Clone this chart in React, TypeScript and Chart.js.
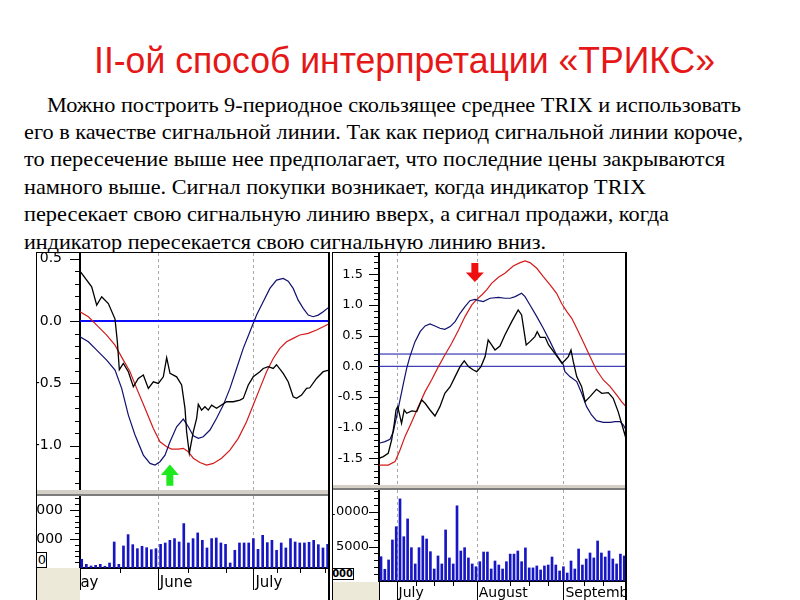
import React, { useEffect, useLayoutEffect, useRef, useState } from 'react';
import { Chart, registerables } from 'chart.js';

Chart.register(...registerables);

// ---------------- text ----------------
const titleText = 'II-ой способ интерпретации «ТРИКС»';
const paragraphLines = [
  'Можно построить 9-периодное скользящее среднее TRIX и использовать',
  'его в качестве сигнальной линии. Так как период сигнальной линии короче,',
  'то пересечение выше нее предполагает, что последние цены закрываются',
  'намного выше. Сигнал покупки возникает, когда индикатор TRIX',
  'пересекает свою сигнальную линию вверх, а сигнал продажи, когда',
  'индикатор пересекается свою сигнальную линию вниз.',
];

// ---------------- left chart data (x = trading day index) ----------------
const leftPrice: [number, number][] = [
  [-0.37, 0.4], [2.15, 0.275], [3.23, 0.128], [4.31, 0.195], [5.74, 0.14], [7.18, 0.016], [7.68, -0.166],
  [8.11, -0.39], [8.97, -0.34], [10.05, -0.406], [11.13, -0.527], [12.2, -0.46], [13.28, -0.433],
  [14.36, -0.54], [15.44, -0.487], [16.51, -0.5], [17.59, -0.447], [18.31, -0.294], [19.03, -0.42],
  [20.46, -0.447], [21.54, -0.513], [22.26, -0.7], [22.61, -0.888], [23.19, -1.06], [24.05, -0.888],
  [24.77, -0.78], [25.13, -0.668], [25.84, -0.714], [26.56, -0.687], [27.28, -0.714], [28.0, -0.674],
  [29.07, -0.7], [31.23, -0.647], [32.66, -0.647], [34.1, -0.634], [34.82, -0.62], [35.9, -0.513],
  [36.97, -0.447], [38.4, -0.406], [39.12, -0.38], [40.2, -0.366], [41.28, -0.38], [41.99, -0.35],
  [43.43, -0.42], [44.5, -0.487], [45.58, -0.607], [46.3, -0.62], [47.38, -0.594], [48.46, -0.54],
  [49.17, -0.535], [50.61, -0.46], [52.05, -0.406], [53.3, -0.393],
];
const leftTrix: [number, number][] = [
  [-0.37, -0.126], [1.44, -0.166], [3.23, -0.233], [5.38, -0.313], [7.18, -0.393], [8.61, -0.54],
  [10.05, -0.754], [11.49, -0.914], [13.28, -1.075], [14.72, -1.142], [15.79, -1.155], [16.87, -1.128],
  [17.95, -1.075], [19.03, -0.968], [20.46, -0.848], [21.9, -0.786], [22.97, -0.848], [24.05, -0.92],
  [25.13, -0.941], [26.2, -0.928], [27.64, -0.874], [29.07, -0.78], [30.51, -0.674], [31.95, -0.54],
  [33.38, -0.38], [34.82, -0.219], [36.25, -0.086], [37.69, 0.048], [39.12, 0.155], [40.56, 0.262],
  [41.99, 0.329], [43.43, 0.342], [44.5, 0.32], [45.58, 0.262], [46.66, 0.168], [47.74, 0.102],
  [48.82, 0.048], [49.89, 0.035], [50.97, 0.048], [52.05, 0.075], [53.3, 0.112],
];
const leftSignal: [number, number][] = [
  [-0.37, 0.075], [1.44, 0.035], [3.23, -0.032], [5.38, -0.112], [7.18, -0.193], [8.97, -0.313],
  [10.41, -0.406], [11.84, -0.54], [13.64, -0.7], [15.44, -0.861], [16.87, -0.968], [18.31, -1.008],
  [19.38, -1.027], [20.82, -1.027], [21.9, -1.021], [22.97, -1.048], [24.05, -1.1], [25.48, -1.134],
  [26.92, -1.155], [28.36, -1.142], [30.15, -1.1], [31.95, -1.035], [33.74, -0.941], [35.53, -0.807],
  [36.97, -0.674], [38.4, -0.54], [39.84, -0.406], [41.28, -0.3], [42.71, -0.219], [44.15, -0.166],
  [45.58, -0.139], [47.02, -0.112], [48.82, -0.099], [50.61, -0.072], [52.05, -0.045], [53.3, -0.022],
];
const leftZeroLevels = [0.0];
const leftVolume = [
  1500, 630, 350, 460, 630, 300, 860, 4480, 630, 3800, 5750, 4020, 3330, 3740, 3500, 3160, 3330, 4080,
  4310, 4770, 5060, 4480, 7650, 4310, 5060, 6040, 4770, 3450, 5060, 5170, 4310, 4080, 860, 3050, 4310,
  4310, 4310, 5060, 3220, 5630, 4370, 4770, 3050, 4310, 3450, 5060, 4480, 4310, 4310, 4430, 4770, 4020,
  3450, 4080,
];
const leftLineTicks = [-1.0, -0.5, 0.0, 0.5];
const leftVolumeTicks = [5000, 10000];
const leftMonthPos = [-3.5, 16.4, 37.0];
const leftMonthLabels = ['May', 'June', 'July'];
const leftWeekPos = [8.3, 23.0, 31.0, 42.0, 47.0, 52.4];
const leftBuyArrow = { x: 19.0, tip: -1.15, tail: -1.32 };

// ---------------- right chart data ----------------
const rightPrice: [number, number][] = [
  [-0.53, -1.5], [0.6, -1.473], [1.9, -1.418], [2.8, -1.2], [3.5, -0.93], [3.95, -0.71], [4.4, -0.658],
  [5.0, -0.82], [5.4, -0.93], [6.1, -0.71], [6.75, -0.766], [8.1, -0.728], [9.4, -0.739], [10.7, -0.549],
  [11.6, -0.603], [12.9, -0.712], [14.2, -0.81], [15.5, -0.658], [16.8, -0.44], [18.2, -0.332],
  [19.5, -0.168], [20.8, -0.005], [21.9, 0.087], [23.0, -0.005], [24.3, -0.06], [25.2, -0.087],
  [26.3, -0.005], [27.4, 0.158], [28.2, 0.43], [29.1, 0.348], [30.0, 0.266], [31.3, 0.33], [32.6, 0.51],
  [34.4, 0.728], [36.1, 0.918], [37.0, 0.837], [38.2, 0.348], [39.2, 0.402], [40.5, 0.484], [41.1, 0.565],
  [41.9, 0.473], [43.2, 0.473], [44.1, 0.348], [45.4, 0.239], [46.7, 0.13], [47.6, 0.049], [48.5, 0.103],
  [49.3, 0.158], [50.0, 0.266], [50.6, 0.076], [51.5, -0.168], [52.8, -0.332], [53.7, -0.576],
  [55.0, -0.495], [56.7, -0.375], [58.1, -0.44], [59.8, -0.429], [61.1, -0.522], [62.4, -0.739],
  [63.3, -0.929], [64.2, -1.12], [64.47, -1.04],
];
const rightTrix: [number, number][] = [
  [-0.53, -1.255], [1.05, -1.228], [2.37, -1.19], [3.25, -1.065], [4.1, -0.82], [5.0, -0.549],
  [5.9, -0.277], [6.75, -0.033], [7.6, 0.158], [8.95, 0.402], [10.3, 0.565], [11.6, 0.658], [12.9, 0.69],
  [14.2, 0.658], [15.5, 0.62], [16.8, 0.603], [18.2, 0.647], [19.5, 0.728], [20.8, 0.864], [22.1, 0.973],
  [23.4, 1.07], [24.7, 1.092], [25.8, 1.07], [26.9, 1.054], [28.7, 1.109], [30.9, 1.125], [32.6, 1.109],
  [34.0, 1.109], [35.3, 1.136], [37.0, 1.19], [37.9, 1.136], [39.2, 1.0], [41.0, 0.81], [42.7, 0.62],
  [44.5, 0.402], [46.2, 0.185], [48.0, 0.022], [48.4, -0.087], [49.7, -0.168], [51.5, -0.25],
  [52.8, -0.44], [54.1, -0.658], [55.4, -0.793], [56.7, -0.886], [58.5, -0.913], [60.3, -0.913],
  [61.6, -0.902], [62.9, -0.902], [63.8, -0.957], [64.47, -1.04],
];
const rightSignal: [number, number][] = [
  [-0.53, -1.61], [1.9, -1.61], [3.7, -1.554], [5.0, -1.364], [6.3, -1.147], [8.1, -0.902], [9.8, -0.658],
  [11.6, -0.413], [13.3, -0.223], [15.1, -0.005], [16.8, 0.185], [18.6, 0.375], [20.4, 0.592], [22.1, 0.81],
  [23.9, 1.0], [25.2, 1.092], [26.5, 1.163], [27.8, 1.245], [29.1, 1.353], [30.9, 1.451], [32.6, 1.516],
  [34.8, 1.636], [36.6, 1.69], [37.9, 1.717], [39.2, 1.69], [41.0, 1.598], [42.7, 1.462], [44.5, 1.326],
  [46.2, 1.19], [47.5, 1.027], [48.9, 0.891], [50.2, 0.783], [51.5, 0.62], [53.2, 0.402], [55.0, 0.158],
  [56.7, -0.06], [58.5, -0.223], [60.3, -0.332], [62.0, -0.467], [63.3, -0.576], [64.47, -0.658],
];
const rightLevels = [0.0, 0.2];
const rightVolume = [
  3520, 1700, 3050, 5950, 7870, 11900, 6420, 9000, 4830, 2470, 4830, 6530, 6090, 4250, 1740, 3630, 2470,
  7400, 3340, 2470, 10900, 4350, 4830, 3340, 2470, 2070, 2800, 4200, 4200, 1740, 2900, 2320,
  1740, 2800, 3900, 3900, 4350, 2800, 4800, 1900, 1900, 2180, 1600, 2180, 2320, 3480, 2320, 1450, 2070,
  1160, 2900, 1740, 4640, 2320, 3190, 4060, 3340, 5800, 4060, 3480, 4350, 3190, 2470, 3900, 3630,
];
const rightLineTicks = [-1.5, -1.0, -0.5, 0.0, 0.5, 1.0, 1.5];
const rightVolumeTicks = [5000, 10000];
const rightMonthPos = [4.1, 25.2, 48.0];
const rightMonthLabels = ['July', 'August', 'September'];
const rightWeekPos = [9.2, 14.0, 19.0, 33.9, 38.9, 44.0, 53.4, 58.5, 64.2];
const rightSellArrow = { x: 24.7, tip: 1.375, tail: 1.685 };

// ---------------- colours ----------------
const PRICE_COLOR = '#000000';
const TRIX_COLOR = '#10106e';
const SIGNAL_COLOR = '#d41a1a';
const BAR_COLOR = '#1616c4';
const GRID_COLOR = '#a8a8a8';
const FONT = 'DejaVu Sans';

function range(from: number, to: number, step: number): number[] {
  const out: number[] = [];
  for (let v = from; v <= to + 1e-9; v += step) out.push(Math.round(v * 1000) / 1000);
  return out;
}

const decor = {
  id: 'decor',
  beforeDatasetsDraw(chart: any, _a: any, o: any) {
    const { ctx, chartArea: a } = chart;
    const xs = chart.scales.x;
    ctx.save();
    ctx.strokeStyle = GRID_COLOR;
    ctx.lineWidth = 1;
    ctx.setLineDash([3, 3]);
    for (const v of o.vlines || []) {
      const px = Math.round(xs.getPixelForValue(v)) + 0.5;
      ctx.beginPath();
      ctx.moveTo(px, a.top);
      ctx.lineTo(px, a.bottom);
      ctx.stroke();
    }
    ctx.restore();
  },
  afterDraw(chart: any, _a: any, o: any) {
    const { ctx, chartArea: a } = chart;
    const xs = chart.scales.x;
    const ys = chart.scales.y;
    ctx.save();
    ctx.strokeStyle = '#000';
    ctx.lineWidth = 1;
    const hTick = (v: number, len: number) => {
      if (v < ys.min || v > ys.max) return;
      const py = Math.round(ys.getPixelForValue(v)) + 0.5;
      ctx.beginPath();
      ctx.moveTo(a.left - len, py);
      ctx.lineTo(a.left, py);
      ctx.stroke();
    };
    (o.yMinor || []).forEach((v: number) => hTick(v, 5));
    (o.yMajor || []).forEach((v: number) => hTick(v, 10));
    const vTick = (v: number, len: number) => {
      if (v < xs.min || v > xs.max) return;
      const px = Math.round(xs.getPixelForValue(v)) + 0.5;
      ctx.beginPath();
      ctx.moveTo(px, a.bottom);
      ctx.lineTo(px, a.bottom + len);
      ctx.stroke();
    };
    (o.xMinor || []).forEach((v: number) => vTick(v, 5));
    (o.xMajor || []).forEach((v: number) => vTick(v, o.xMajorLen || 20));
    if (o.edgeLen) {
      ctx.lineWidth = 2;
      ctx.beginPath();
      ctx.moveTo(a.left, a.bottom);
      ctx.lineTo(a.left, a.bottom + o.edgeLen);
      ctx.stroke();
    }
    if (o.arrow) {
      const { x, tip, tail, color } = o.arrow;
      const px = xs.getPixelForValue(x);
      const pt = ys.getPixelForValue(tip);
      const pb = ys.getPixelForValue(tail);
      const dir = Math.sign(pb - pt);
      const headLen = Math.abs(pb - pt) * 0.5;
      const hw = 9;
      const sw = 3.5;
      ctx.fillStyle = color;
      ctx.beginPath();
      ctx.moveTo(px, pt);
      ctx.lineTo(px + hw, pt + dir * headLen);
      ctx.lineTo(px + sw, pt + dir * headLen);
      ctx.lineTo(px + sw, pb);
      ctx.lineTo(px - sw, pb);
      ctx.lineTo(px - sw, pt + dir * headLen);
      ctx.lineTo(px - hw, pt + dir * headLen);
      ctx.closePath();
      ctx.fill();
    }
    ctx.restore();
  },
};

const pts = (arr: [number, number][]) => arr.map(([x, y]) => ({ x, y }));

function lineConfig(p: any): any {
  const levelSets = p.levels.map((lv: number) => ({
    data: [{ x: p.xMin, y: lv }, { x: p.xMax, y: lv }],
    borderColor: p.levelColor,
    borderWidth: p.levelWidth,
    pointRadius: 0,
  }));
  return {
    type: 'line',
    data: {
      datasets: [
        { data: pts(p.price), borderColor: PRICE_COLOR, borderWidth: 1.3, pointRadius: 0 },
        { data: pts(p.trix), borderColor: TRIX_COLOR, borderWidth: 1.2, pointRadius: 0 },
        { data: pts(p.signal), borderColor: SIGNAL_COLOR, borderWidth: 1.2, pointRadius: 0 },
        ...levelSets,
      ],
    },
    options: {
      responsive: false,
      animation: false,
      events: [],
      layout: { padding: 0 },
      elements: { line: { tension: 0, fill: false } },
      plugins: {
        legend: { display: false },
        tooltip: { enabled: false },
        decor: {
          vlines: p.vlines,
          yMajor: p.yTicks,
          yMinor: p.yMinor,
          arrow: p.arrow,
        },
      },
      scales: {
        x: { type: 'linear', display: false, min: p.xMin, max: p.xMax, offset: false },
        y: {
          type: 'linear',
          min: p.yMin,
          max: p.yMax,
          afterBuildTicks: (s: any) => {
            s.ticks = p.yTicks.map((v: number) => ({ value: v }));
          },
          afterFit: (s: any) => {
            s.width = p.axisWidth;
            s.paddingTop = 0;
            s.paddingBottom = 0;
          },
          grid: { display: false, drawTicks: false },
          border: { display: true, color: '#000', width: 2 },
          ticks: {
            padding: p.labelPad,
            color: '#000',
            font: { family: FONT, size: p.fontSize },
            callback: (v: number) => Number(v).toFixed(1),
          },
        },
      },
    },
    plugins: [decor],
  };
}

function barConfig(p: any): any {
  return {
    type: 'bar',
    data: {
      datasets: [
        {
          data: p.volume.map((v: number, i: number) => ({ x: i, y: v })),
          backgroundColor: BAR_COLOR,
          barThickness: 2,
        },
      ],
    },
    options: {
      responsive: false,
      animation: false,
      events: [],
      layout: { padding: 0 },
      plugins: {
        legend: { display: false },
        tooltip: { enabled: false },
        decor: {
          vlines: p.vlines,
          yMajor: p.yTicks,
          yMinor: p.yMinor,
          xMajor: p.monthPos,
          xMajorLen: p.monthLen,
          xMinor: p.weekPos,
          edgeLen: p.monthLen,
        },
      },
      scales: {
        x: {
          type: 'linear',
          min: p.xMin,
          max: p.xMax,
          offset: false,
          afterBuildTicks: (s: any) => {
            s.ticks = p.monthPos.map((v: number) => ({ value: v }));
          },
          afterFit: (s: any) => {
            s.height = p.axisHeight;
            s.paddingLeft = 0;
            s.paddingRight = 0;
          },
          grid: { display: false, drawTicks: false },
          border: { display: true, color: '#000', width: 2 },
          ticks: {
            autoSkip: false,
            maxRotation: 0,
            minRotation: 0,
            align: 'start',
            labelOffset: 2,
            padding: p.xLabelPad,
            color: '#000',
            font: { family: FONT, size: p.xFontSize },
            callback: (_v: number, i: number) => p.monthLabels[i],
          },
        },
        y: {
          type: 'linear',
          min: 0,
          max: p.yMax,
          afterBuildTicks: (s: any) => {
            s.ticks = p.yTicks.map((v: number) => ({ value: v }));
          },
          afterFit: (s: any) => {
            s.width = p.axisWidth;
            s.paddingTop = 0;
            s.paddingBottom = 0;
          },
          grid: { display: false, drawTicks: false },
          border: { display: true, color: '#000', width: 2 },
          ticks: {
            padding: p.labelPad,
            color: '#000',
            font: { family: FONT, size: p.fontSize },
            callback: (v: number) => String(v),
          },
        },
      },
    },
    plugins: [decor],
  };
}

function ChartCanvas({ make, left, top, width, height }: any) {
  const ref = useRef<HTMLCanvasElement>(null);
  useEffect(() => {
    const chart = new Chart(ref.current as HTMLCanvasElement, make());
    return () => chart.destroy();
  }, []);
  return (
    <canvas
      ref={ref}
      width={width}
      height={height}
      style={{ position: 'absolute', left, top, width, height, display: 'block' }}
    />
  );
}

function FitLine({ text, left, right, baseline, family, size, color, ascent }: any) {
  const ref = useRef<HTMLDivElement>(null);
  const [sx, setSx] = useState(1);
  useLayoutEffect(() => {
    const el = ref.current;
    if (!el) return;
    const w = el.getBoundingClientRect().width;
    if (w > 0) setSx((right - left) / w);
  }, []);
  return (
    <div
      ref={ref}
      style={{
        position: 'absolute',
        left,
        top: baseline - size * ascent,
        whiteSpace: 'nowrap',
        fontFamily: family,
        fontSize: size,
        lineHeight: `${size}px`,
        color,
        transform: `scaleX(${sx})`,
        transformOrigin: 'left top',
      }}
    >
      {text}
    </div>
  );
}

const lineLeft = [47, 24, 24, 24, 24, 24];
const lineRight = [741, 743, 725, 646, 669, 546];
const lineBaseline = [112, 139.4, 166.8, 194.2, 221.6, 249];

const block = (left: number, top: number, width: number, height: number, bg: string, extra: any = {}) => (
  <div style={{ position: 'absolute', left, top, width, height, background: bg, ...extra }} />
);

export default function App() {
  const L_XMIN = -0.37, L_XMAX = 53.3;
  const R_XMIN = -0.53, R_XMAX = 64.47;

  const leftLine = () =>
    lineConfig({
      price: leftPrice, trix: leftTrix, signal: leftSignal,
      levels: leftZeroLevels, levelColor: '#0a0aff', levelWidth: 2,
      xMin: L_XMIN, xMax: L_XMAX, yMin: -1.355, yMax: 0.546,
      yTicks: leftLineTicks, yMinor: range(-1.3, 0.5, 0.1),
      axisWidth: 80, labelPad: 18, fontSize: 14,
      vlines: [leftMonthPos[1], leftMonthPos[2]],
      arrow: { ...leftBuyArrow, color: '#1ee81e' },
    });
  const leftBar = () =>
    barConfig({
      volume: leftVolume, xMin: L_XMIN, xMax: L_XMAX, yMax: 12400,
      yTicks: leftVolumeTicks, yMinor: range(1000, 12000, 1000),
      axisWidth: 80, labelPad: 17, fontSize: 14, axisHeight: 32,
      monthPos: leftMonthPos, monthLabels: leftMonthLabels, monthLen: 22,
      weekPos: leftWeekPos, xLabelPad: 6, xFontSize: 15,
      vlines: [leftMonthPos[1], leftMonthPos[2]],
    });
  const rightLine = () =>
    lineConfig({
      price: rightPrice, trix: rightTrix, signal: rightSignal,
      levels: rightLevels, levelColor: '#1010a8', levelWidth: 1,
      xMin: R_XMIN, xMax: R_XMAX, yMin: -1.935, yMax: 1.847,
      yTicks: rightLineTicks, yMinor: range(-1.9, 1.8, 0.1),
      axisWidth: 79, labelPad: 16, fontSize: 13,
      vlines: rightMonthPos,
      arrow: { ...rightSellArrow, color: '#ee1010' },
    });
  const rightBar = () =>
    barConfig({
      volume: rightVolume, xMin: R_XMIN, xMax: R_XMAX, yMax: 13190,
      yTicks: rightVolumeTicks, yMinor: range(1000, 13000, 1000),
      axisWidth: 79, labelPad: 10, fontSize: 13, axisHeight: 19,
      monthPos: rightMonthPos, monthLabels: rightMonthLabels, monthLen: 19,
      weekPos: rightWeekPos, xLabelPad: 4, xFontSize: 14,
      vlines: rightMonthPos,
    });

  return (
    <div style={{ position: 'absolute', left: 0, top: 0, width: 800, height: 600, background: '#fff', overflow: 'hidden' }}>
      <FitLine text={titleText} left={94} right={715} baseline={73} family="'Liberation Sans', Arial, sans-serif" size={36} color="#e51717" ascent={0.8465} />
      {paragraphLines.map((t, i) => (
        <FitLine key={i} text={t} left={lineLeft[i]} right={lineRight[i]} baseline={lineBaseline[i]} family="'Liberation Serif', 'Times New Roman', serif" size={22} color="#000" ascent={0.8375} />
      ))}

      {/* left panel */}
      <div style={{ position: 'absolute', left: 37, top: 253, width: 292, height: 347, overflow: 'hidden', background: '#fff' }}>
        <ChartCanvas make={leftLine} left={-37} top={0} width={329} height={237} />
        <ChartCanvas make={leftBar} left={-37} top={243} width={329} height={104} />
        <div style={{ position: 'absolute', left: -4, top: 299, width: 12, height: 14, border: '1px solid #000', background: '#fff', font: `13px '${FONT}'`, lineHeight: '14px', textAlign: 'right', overflow: 'hidden' }}>0</div>
      </div>

      {/* right panel */}
      <div style={{ position: 'absolute', left: 333, top: 253, width: 293, height: 347, overflow: 'hidden', background: '#fff' }}>
        <ChartCanvas make={rightLine} left={-33} top={0} width={326} height={232} />
        <ChartCanvas make={rightBar} left={-33} top={237} width={326} height={110} />
        <div style={{ position: 'absolute', left: -5, top: 315, width: 24, height: 10, border: '1px solid #000', background: '#fff', font: `bold 10px '${FONT}'`, lineHeight: '10px', textAlign: 'right', overflow: 'hidden' }}>000</div>
      </div>

      {/* frames and separators */}
      {block(37, 568, 43, 32, '#ece9d8')}
      {block(333, 582, 46, 18, '#ece9d8')}
      {block(37, 490, 292, 4, '#d4d0c8')}
      {block(37, 494, 292, 2, '#7c7c7c')}
      {block(333, 485, 293, 3, '#d4d0c8')}
      {block(333, 488, 293, 2, '#7c7c7c')}
      {block(36, 253, 1, 347, '#000')}
      {block(36, 252, 294, 1, '#000')}
      {block(328, 252, 2, 348, '#000')}
      {block(332, 252, 1, 348, '#000')}
      {block(332, 252, 295, 1, '#000')}
      {block(625, 252, 2, 348, '#000')}
    </div>
  );
}
